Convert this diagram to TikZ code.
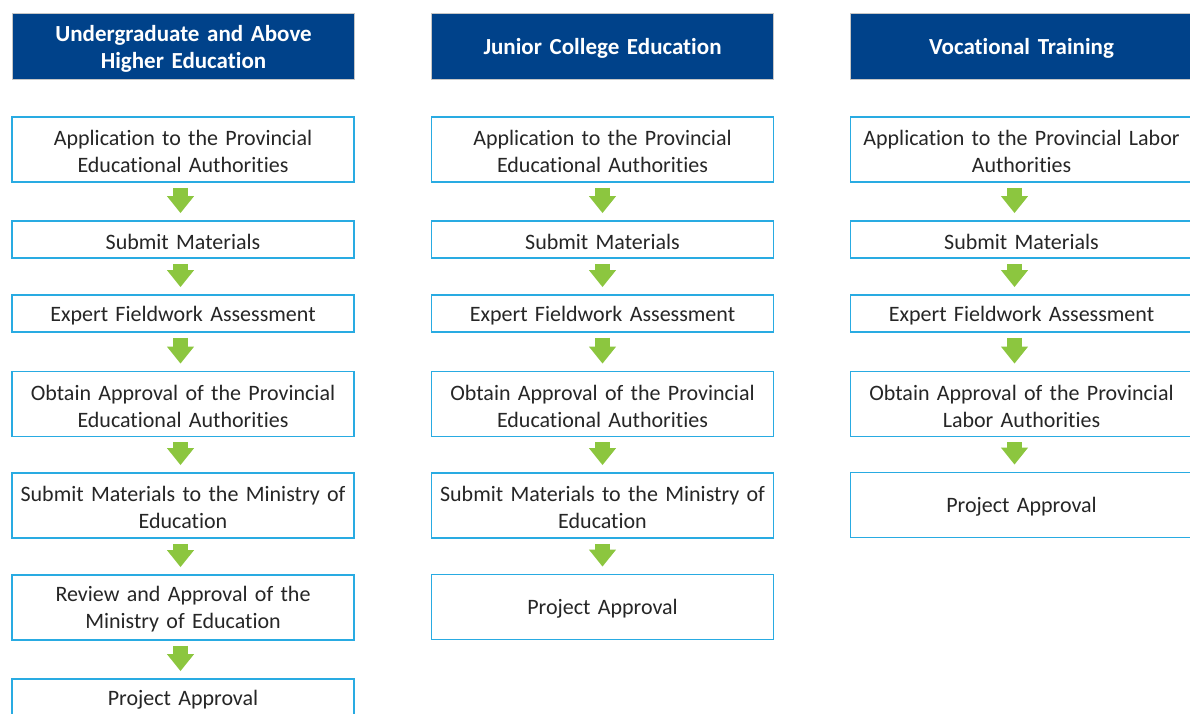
\documentclass[tikz,border=0pt]{standalone}
\usepackage{fontspec}
\setmainfont{Carlito}[Ligatures=NoCommon]
\usetikzlibrary{calc,arrows.meta}
\definecolor{hdrblue}{HTML}{00428A}
\definecolor{boxcyan}{HTML}{29ABE2}
\definecolor{arrgreen}{HTML}{8CC63F}
\begin{document}
\begin{tikzpicture}[x=1pt,y=-1pt,
  hdr/.style={fill=hdrblue, draw=gray!45, line width=0.6pt, text=white,
    font=\fontsize{23}{27}\selectfont\bfseries, minimum width=342pt,
    minimum height=66pt, text width=334pt, align=center, inner sep=0pt},
  hdrtext/.style={text=white, font=\fontsize{23}{27}\selectfont\bfseries,
    text width=334pt, align=center, inner sep=0pt, yshift=-2.5pt},
  stepbox/.style={draw=boxcyan, line width=1.8pt, fill=white,
    minimum width=342pt, inner sep=0pt},
  steptext/.style={text=black!85, font=\fontsize{22}{27}\selectfont,
    text width=334pt, align=center, inner sep=0pt, yshift=-2pt},
  tall/.style={stepbox, minimum height=65pt, label={[steptext]center:{#1}}},
  short/.style={stepbox, minimum height=37pt, label={[steptext]center:{#1}}},
  head/.style={hdr, minimum height=66pt, label={[hdrtext]center:{#1}}},
  flow/.style={arrgreen, line width=15pt, -{Triangle[width=26pt,length=17pt]}}
]
\useasboundingbox (0,0) rectangle (1190,713);
\fill[white] (0,0) rectangle (1190,713);

% column 1
\node[head={Undergraduate and Above\\Higher Education}] (h1) at (183.5,46) {};
\node[tall={Application to the Provincial\\Educational Authorities}] (a1) at (183,149.5) {};
\node[short={Submit Materials}] (a2) at (183,239.5) {};
\node[short={Expert Fieldwork Assessment}] (a3) at (183,313.5) {};
\node[tall={Obtain Approval of the Provincial\\Educational Authorities}] (a4) at (183,404) {};
\node[tall={Submit Materials to the Ministry of\\Education}] (a5) at (183,505.5) {};
\node[tall={Review and Approval of the\\Ministry of Education}] (a6) at (183,607.5) {};
\node[short={Project Approval}] (a7) at (183,697.5) {};

% column 2
\node[head={Junior College Education}] (h2) at (602.5,46) {};
\node[tall={Application to the Provincial\\Educational Authorities}] (b1) at (602.5,149.5) {};
\node[short={Submit Materials}] (b2) at (602.5,239.5) {};
\node[short={Expert Fieldwork Assessment}] (b3) at (602.5,313.5) {};
\node[tall={Obtain Approval of the Provincial\\Educational Authorities}] (b4) at (602.5,404) {};
\node[tall={Submit Materials to the Ministry of\\Education}] (b5) at (602.5,505.5) {};
\node[tall={Project Approval}] (b6) at (602.5,607) {};

% column 3
\node[head={Vocational Training}] (h3) at (1021.5,46) {};
\node[tall={Application to the Provincial Labor\\Authorities}] (c1) at (1021.5,149.5) {};
\node[short={Submit Materials}] (c2) at (1021.5,239.5) {};
\node[short={Expert Fieldwork Assessment}] (c3) at (1021.5,313.5) {};
\node[tall={Obtain Approval of the Provincial\\Labor Authorities}] (c4) at (1021.5,404) {};
\node[tall={Project Approval}] (c5) at (1021.5,505) {};

% arrows
\foreach \u/\v in {a1/a2,a2/a3,a3/a4,a4/a5,a5/a6,a6/a7}
  \draw[flow] ($(\u.south)+(-2.5,5)$) -- ($(\v.north)+(-2.5,-7)$);
\foreach \u/\v in {b1/b2,b2/b3,b3/b4,b4/b5,b5/b6}
  \draw[flow] ($(\u.south)+(0,5)$) -- ($(\v.north)+(0,-7)$);
\foreach \u/\v in {c1/c2,c2/c3,c3/c4,c4/c5}
  \draw[flow] ($(\u.south)+(-7,5)$) -- ($(\v.north)+(-7,-7)$);
\end{tikzpicture}
\end{document}
